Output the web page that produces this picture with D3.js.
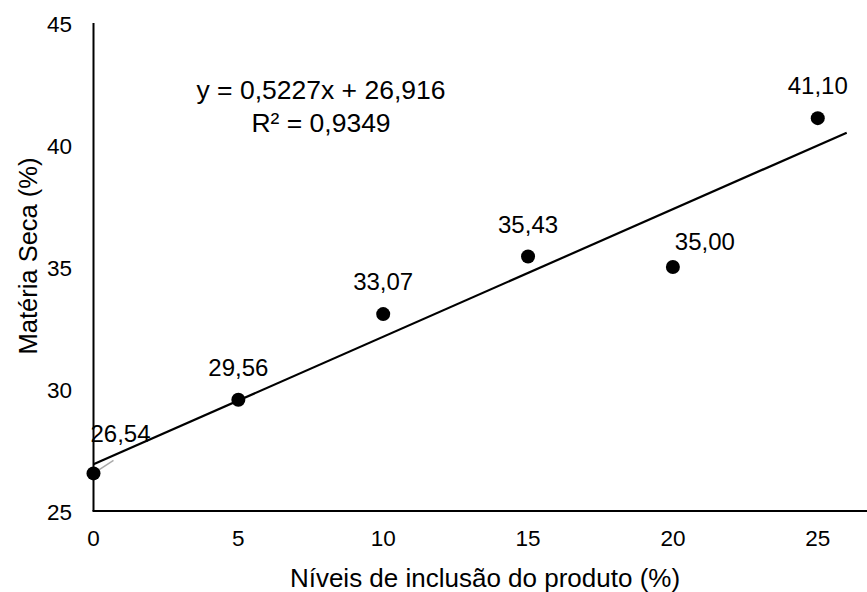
<!DOCTYPE html>
<html>
<head>
<meta charset="utf-8">
<script src="https://cdn.jsdelivr.net/npm/d3@7"></script>
<style>
  body { margin: 0; background: #fff; }
  text { font-family: "Liberation Sans", Arial, sans-serif; fill: #000; }
</style>
</head>
<body>
<svg id="chart" width="867" height="592"></svg>
<script>
// data
var niveis = [0, 5, 10, 15, 20, 25];
var materiaSeca = [26.54, 29.56, 33.07, 35.43, 35.00, 41.10];
var rotulos = ["26,54", "29,56", "33,07", "35,43", "35,00", "41,10"];
var xTicks = [0, 5, 10, 15, 20, 25];
var yTicks = [25, 30, 35, 40, 45];
var slope = 0.5227, intercept = 26.916;
var trendEnd = 26;

// label nudges (px), excel moved a couple of them
var labelDx = [27, 0, 0, 0, 32, 0];
var labelDy = [-31, -24, -24, -24, -17, -24];

var svg = d3.select('#chart');

var x = d3.scaleLinear().domain([0, 26.7]).range([93.5, 867]);
var y = d3.scaleLinear().domain([25, 45]).range([511, 23]);

// axes
svg.append('line')
  .attr('x1', x(0)).attr('x2', x(0))
  .attr('y1', y(45)).attr('y2', y(25))
  .attr('stroke', '#000').attr('stroke-width', 2);
svg.append('line')
  .attr('x1', x(0) - 1).attr('x2', 867)
  .attr('y1', y(25)).attr('y2', y(25))
  .attr('stroke', '#000').attr('stroke-width', 2);

svg.selectAll('.ytick')
  .data(yTicks)
  .enter()
  .append('text')
  .attr('x', 72)
  .attr('y', d => y(d) + 9)
  .attr('text-anchor', 'end')
  .style('font-size', '22.5px')
  .text(d => d);

svg.selectAll('.xtick')
  .data(xTicks)
  .enter()
  .append('text')
  .attr('x', d => x(d))
  .attr('y', 546)
  .attr('text-anchor', 'middle')
  .style('font-size', '22.5px')
  .text(d => d);

// axis titles
svg.append('text')
  .attr('transform', 'translate(37,256) rotate(-90)')
  .attr('text-anchor', 'middle')
  .style('font-size', '25.5px')
  .text('Matéria Seca (%)');

svg.append('text')
  .attr('x', 485)
  .attr('y', 587)
  .attr('text-anchor', 'middle')
  .style('font-size', '26px')
  .text('Níveis de inclusão do produto (%)');

// trend line
svg.append('line')
  .attr('x1', x(0)).attr('y1', y(intercept))
  .attr('x2', x(trendEnd)).attr('y2', y(intercept + slope * trendEnd))
  .attr('stroke', '#000').attr('stroke-width', 2.2);

// leader line of the first label
svg.append('line')
  .attr('x1', x(niveis[0])).attr('y1', y(materiaSeca[0]))
  .attr('x2', x(niveis[0]) + 20).attr('y2', y(materiaSeca[0]) - 13)
  .attr('stroke', '#aaa').attr('stroke-width', 1.5);

// points
svg.selectAll('circle')
  .data(niveis)
  .enter()
  .append('circle')
  .attr('cx', d => x(d))
  .attr('cy', (d, i) => y(materiaSeca[i]))
  .attr('r', 7)
  .attr('fill', '#000');

// labels
svg.selectAll('.lbl')
  .data(niveis)
  .enter()
  .append('text')
  .attr('x', (d, i) => x(d) + labelDx[i])
  .attr('y', (d, i) => y(materiaSeca[i]) + labelDy[i])
  .attr('text-anchor', 'middle')
  .style('font-size', '24px')
  .text((d, i) => rotulos[i]);

// equation
svg.append('text')
  .attr('x', 321).attr('y', 99)
  .attr('text-anchor', 'middle')
  .style('font-size', '26.5px')
  .text('y = 0,5227x + 26,916');
svg.append('text')
  .attr('x', 321).attr('y', 132)
  .attr('text-anchor', 'middle')
  .style('font-size', '26.5px')
  .text('R² = 0,9349');
</script>
</body>
</html>
